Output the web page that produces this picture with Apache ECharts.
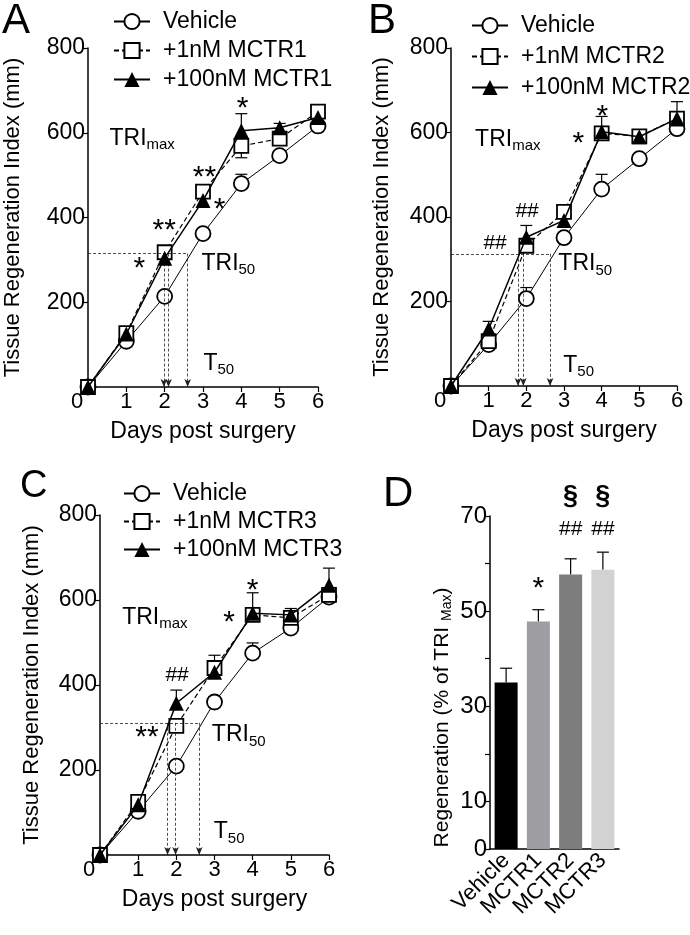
<!DOCTYPE html>
<html>
<head>
<meta charset="utf-8">
<script src="https://cdn.jsdelivr.net/npm/echarts@6/dist/echarts.min.js"></script>
<style>
  html, body { margin: 0; padding: 0; background: #fff; }
  #chart { width: 690px; height: 935px; }
</style>
</head>
<body>
<div id="chart"></div>
<script>
// days post surgery (x values for A, B, C)
const days = [0, 1, 2, 3, 4, 5, 6];

// Panel A - MCTR1
const vehA = [0, 108, 214, 362, 480, 546, 616];
const low1A = [0, 127, 318, 461, 569, 586, 650];
const high1A = [0, 125, 304, 440, 605, 612, 636];
const vehErrA = [0, 8, 10, 12, 22, 12, 10];
const lowErrA = [0, 10, 10, 12, -28, 10, 10];
const highErrA = [0, 10, 10, 10, 40, 10, 10];

// Panel B - MCTR2
const vehB = [0, 98, 207, 351, 466, 538, 609];
const low1B = [0, 106, 332, 412, 598, 591, 633];
const high1B = [0, 135, 352, 392, 602, 590, 633];
const vehErrB = [0, 8, 26, 10, 35, 10, 10];
const lowErrB = [0, 8, 10, 10, 10, 10, 10];
const highErrB = [0, 18, 28, 10, 36, 14, 40];

// Panel C - MCTR3
const vehC = [0, 103, 209, 360, 475, 534, 607];
const low1C = [0, 125, 304, 440, 565, 558, 612];
const high1C = [0, 118, 357, 430, 569, 565, 635];
const vehErrC = [0, 8, 10, 12, 24, 12, 10];
const lowErrC = [0, 10, 10, 10, 10, 10, 10];
const highErrC = [0, 10, 31, 40, 48, 15, 40];

// TRImax / TRI50 levels and T50 days (arrows)
const triMax = [630, 625, 623];
const tri50 = [315, 313, 311];
const t50A = [1.98, 2.1, 2.6];
const t50B = [1.78, 1.92, 2.63];
const t50C = [1.77, 1.98, 2.6];

// significance marks [day, value, text]
const marksA = [[4.03, 675, '*'], [3.04, 511, '**'], [3.43, 435, '*'], [1.99, 386, '**'], [1.34, 296, '*']];
const marksB = [[4.02, 654, '*'], [3.38, 591, '*'], [2.02, 414, '##'], [1.17, 339, '##']];
const marksC = [[4.0, 640, '*'], [3.38, 565, '*'], [2.02, 424, '##'], [1.23, 294, '**']];

// text labels [day, value, main, sub]
const textA = [[0.56, 586, 'TRI', 'max'], [2.96, 292, 'TRI', '50'], [3.01, 56, 'T', '50']];
const textB = [[0.64, 583, 'TRI', 'max'], [2.85, 289, 'TRI', '50'], [2.98, 49, 'T', '50']];
const textC = [[0.58, 558, 'TRI', 'max'], [2.93, 282, 'TRI', '50'], [2.98, 54, 'T', '50']];

// Panel D
const groupsD = ['Vehicle', 'MCTR1', 'MCTR2', 'MCTR3'];
const regenD = [35, 47.8, 57.7, 58.7];
const regenErrD = [3, 2.5, 3.3, 3.7];
const colorsD = ['#000000', '#9e9ea2', '#7d7d7d', '#d2d2d2'];
const marksD = [[1, 56.2, '*'], [2, 67.2, '##'], [3, 67.2, '##'], [2, 74.1, '§'], [3, 74.1, '§']];
const yTicksD = [0, 10, 30, 50, 70];
const yTicksLine = [200, 400, 600, 800];

const FONT = 'Liberation Sans, Arial, sans-serif';

const chart = echarts.init(document.getElementById('chart'));

function errRender(params, api) {
  const x = api.value(0), v = api.value(1), e = api.value(2);
  const p0 = api.coord([x, v]);
  const p1 = api.coord([x, v + e]);
  const w = 6;
  return {
    type: 'group',
    children: [
      { type: 'line', shape: { x1: p0[0], y1: p0[1], x2: p1[0], y2: p1[1] }, style: { stroke: '#000', lineWidth: 1.2 } },
      { type: 'line', shape: { x1: p1[0] - w, y1: p1[1], x2: p1[0] + w, y2: p1[1] }, style: { stroke: '#000', lineWidth: 1.2 } }
    ]
  };
}

function toPoints(vals) {
  return days.map((d, i) => [d, vals[i]]);
}

function toErr(vals, errs) {
  return days.map((d, i) => [d, vals[i], errs[i]]).filter(e => e[2] !== 0);
}

function markText(p) {
  const t = p.name;
  if (t.indexOf('#') >= 0) return '{h|' + t + '}';
  if (t === '§') return '{g|' + t + '}';
  return '{s|' + t + '}';
}

const markRich = {
  s: { fontSize: 30, fontFamily: FONT, color: '#000', padding: [15, 0, 0, 0] },
  h: { fontSize: 21, fontFamily: FONT, color: '#000' },
  g: { fontSize: 27, fontFamily: FONT, color: '#000', fontWeight: 'bold' }
};

function panelSeries(i, names, veh, low, high, vehErr, lowErr, highErr, t50, marks, texts) {
  const dash = { color: '#222', width: 0.8, type: [3, 2] };
  return [
    {
      type: 'custom', xAxisIndex: i, yAxisIndex: i, z: 1, silent: true,
      renderItem: errRender,
      data: toErr(veh, vehErr).concat(toErr(low, lowErr), toErr(high, highErr))
    },
    {
      name: names[0], type: 'line', xAxisIndex: i, yAxisIndex: i, z: 3,
      data: toPoints(veh),
      symbol: 'circle', symbolSize: 15,
      lineStyle: { color: '#000', width: 1 },
      itemStyle: { color: '#fff', borderColor: '#000', borderWidth: 1.8 },
      markLine: {
        silent: true, symbol: ['none', 'none'], animation: false,
        lineStyle: dash, label: { show: false },
        data: [
          [{ coord: [0, triMax[i]] }, { coord: [6.05, triMax[i]] }],
          [{ coord: [0, tri50[i]] }, { coord: [t50[2], tri50[i]] }]
        ].concat(t50.map(d => [
          { coord: [d, tri50[i]], symbol: 'none' },
          { coord: [d, 0], symbol: 'arrow', symbolSize: [5, 8] }
        ]))
      }
    },
    {
      name: names[1], type: 'line', xAxisIndex: i, yAxisIndex: i, z: 4,
      data: toPoints(low),
      symbol: 'rect', symbolSize: 14,
      lineStyle: { color: '#000', width: 1.2, type: [5, 3] },
      itemStyle: { color: '#fff', borderColor: '#000', borderWidth: 1.8 }
    },
    {
      name: names[2], type: 'line', xAxisIndex: i, yAxisIndex: i, z: 5,
      data: toPoints(high),
      symbol: 'triangle', symbolSize: 15,
      lineStyle: { color: '#000', width: 1.5 },
      itemStyle: { color: '#000' }
    },
    {
      type: 'scatter', xAxisIndex: i, yAxisIndex: i, z: 6, silent: true, clip: false,
      symbolSize: 0, itemStyle: { opacity: 1 },
      data: marks.map(m => ({ name: m[2], value: [m[0], m[1]] })),
      label: { show: true, position: 'inside', formatter: markText, rich: markRich }
    },
    {
      type: 'scatter', xAxisIndex: i, yAxisIndex: i, z: 6, silent: true, clip: false,
      symbolSize: 0, itemStyle: { opacity: 1 },
      data: texts.map(t => ({ name: t[2] + '|' + t[3], value: [t[0], t[1]] })),
      label: {
        show: true, position: 'insideLeft', distance: 0,
        formatter: p => {
          const parts = p.name.split('|');
          return '{m|' + parts[0] + '}{b|' + parts[1] + '}';
        },
        rich: {
          m: { fontSize: 23, fontFamily: FONT, color: '#000' },
          b: { fontSize: 15, fontFamily: FONT, color: '#000', padding: [13, 0, 0, 0] }
        }
      }
    }
  ];
}

function lineXAxis(i) {
  return {
    gridIndex: i, type: 'value', min: 0, max: 6, interval: 1,
    name: 'Days post surgery', nameLocation: 'middle', nameGap: 33,
    nameTextStyle: { fontSize: 23, fontFamily: FONT, color: '#000' },
    axisLine: { lineStyle: { color: '#000', width: 1.5 } },
    axisTick: { length: 5, lineStyle: { color: '#000', width: 1.2 } },
    splitLine: { show: false },
    axisLabel: {
      margin: 4, color: '#000', fontSize: 22, fontFamily: FONT,
      formatter: v => v === 0 ? '{z|0}' : String(v),
      rich: { z: { fontSize: 22, fontFamily: FONT, color: '#000', padding: [0, 22, 0, 0] } }
    }
  };
}

function lineYAxis(i, gap) {
  return {
    gridIndex: i, type: 'value', min: 0, max: 800, interval: 200,
    name: 'Tissue Regeneration Index (mm)', nameLocation: 'middle', nameGap: gap,
    nameTextStyle: { fontSize: 22, fontFamily: FONT, color: '#000' },
    axisLine: { show: true, lineStyle: { color: '#000', width: 1.5 } },
    axisTick: { show: true, length: 5, lineStyle: { color: '#000', width: 1.2 } },
    splitLine: { show: false },
    axisLabel: {
      margin: 3, color: '#000', fontSize: 23, fontFamily: FONT,
      formatter: v => yTicksLine.indexOf(v) >= 0 ? String(v) : ''
    }
  };
}

function legendFor(names, left, top, gap) {
  return {
    data: names, orient: 'vertical', left: left, top: top,
    itemWidth: 36, itemHeight: 19, itemGap: gap,
    selectedMode: false,
    textStyle: { fontSize: 23, fontFamily: FONT, color: '#000', padding: [0, 0, 0, 8] }
  };
}

const namesA = ['Vehicle', '+1nM MCTR1', '+100nM MCTR1'];
const namesB = ['Vehicle', '+1nM MCTR2', '+100nM MCTR2'];
const namesC = ['Vehicle', '+1nM MCTR3', '+100nM MCTR3'];

const option = {
  animation: false,
  backgroundColor: '#fff',
  legend: [
    legendFor(namesA, 108, 5, 6),
    legendFor(namesB, 466, 9, 8),
    legendFor(namesC, 118, 477, 5)
  ],
  grid: [
    { left: 88, top: 48, width: 230, height: 339, outerBoundsMode: 'none' },
    { left: 451, top: 48, width: 226, height: 338, outerBoundsMode: 'none' },
    { left: 100, top: 515, width: 229, height: 340, outerBoundsMode: 'none' },
    { left: 490, top: 516, width: 129, height: 333, outerBoundsMode: 'none' }
  ],
  xAxis: [
    lineXAxis(0), lineXAxis(1), lineXAxis(2),
    {
      gridIndex: 3, type: 'category', data: groupsD,
      axisLine: { lineStyle: { color: '#000', width: 1.5 } },
      axisTick: { alignWithLabel: true, length: 5, lineStyle: { color: '#000', width: 1.2 } },
      axisLabel: { rotate: 45, margin: 8, color: '#000', fontSize: 22, fontFamily: FONT, interval: 0 }
    }
  ],
  yAxis: [
    lineYAxis(0, 64), lineYAxis(1, 58), lineYAxis(2, 57),
    {
      gridIndex: 3, type: 'value', min: 0, max: 70, interval: 10,
      name: 'Regeneration (% of TRI {s|Max})', nameLocation: 'middle', nameGap: 36,
      nameTextStyle: {
        fontSize: 21, fontFamily: FONT, color: '#000', padding: [0, 70, 0, 0],
        rich: { s: { fontSize: 14, fontFamily: FONT, color: '#000', padding: [10, 0, 0, 0] } }
      },
      axisLine: { show: true, lineStyle: { color: '#000', width: 1.5 } },
      axisTick: { show: true, length: 5, lineStyle: { color: '#000', width: 1.2 } },
      splitLine: { show: false },
      axisLabel: {
        margin: 3, color: '#000', fontSize: 24, fontFamily: FONT,
        formatter: v => yTicksD.indexOf(v) >= 0 ? String(v) : ''
      }
    }
  ],
  graphic: [
    { type: 'text', left: 2, top: 0, style: { text: 'A', fontSize: 42, fontFamily: FONT, fill: '#000' } },
    { type: 'text', left: 368, top: 0, style: { text: 'B', fontSize: 42, fontFamily: FONT, fill: '#000' } },
    { type: 'text', left: 20, top: 468, style: { text: 'C', fontSize: 38, fontFamily: FONT, fill: '#000' } },
    { type: 'text', left: 383, top: 473, style: { text: 'D', fontSize: 42, fontFamily: FONT, fill: '#000' } }
  ],
  series: [].concat(
    panelSeries(0, namesA, vehA, low1A, high1A, vehErrA, lowErrA, highErrA, t50A, marksA, textA),
    panelSeries(1, namesB, vehB, low1B, high1B, vehErrB, lowErrB, highErrB, t50B, marksB, textB),
    panelSeries(2, namesC, vehC, low1C, high1C, vehErrC, lowErrC, highErrC, t50C, marksC, textC),
    [
      {
        type: 'custom', xAxisIndex: 3, yAxisIndex: 3, z: 1, silent: true,
        renderItem: errRender,
        data: regenD.map((v, i) => [i, v, regenErrD[i]])
      },
      {
        type: 'bar', xAxisIndex: 3, yAxisIndex: 3, z: 2, barWidth: 23,
        data: regenD.map((v, i) => ({ value: v, itemStyle: { color: colorsD[i] } }))
      },
      {
        type: 'scatter', xAxisIndex: 3, yAxisIndex: 3, z: 6, silent: true, clip: false,
        symbolSize: 0, itemStyle: { opacity: 1 },
        data: marksD.map(m => ({ name: m[2], value: [m[0], m[1]] })),
        label: { show: true, position: 'inside', formatter: markText, rich: markRich }
      }
    ]
  )
};

chart.setOption(option);
</script>
</body>
</html>
